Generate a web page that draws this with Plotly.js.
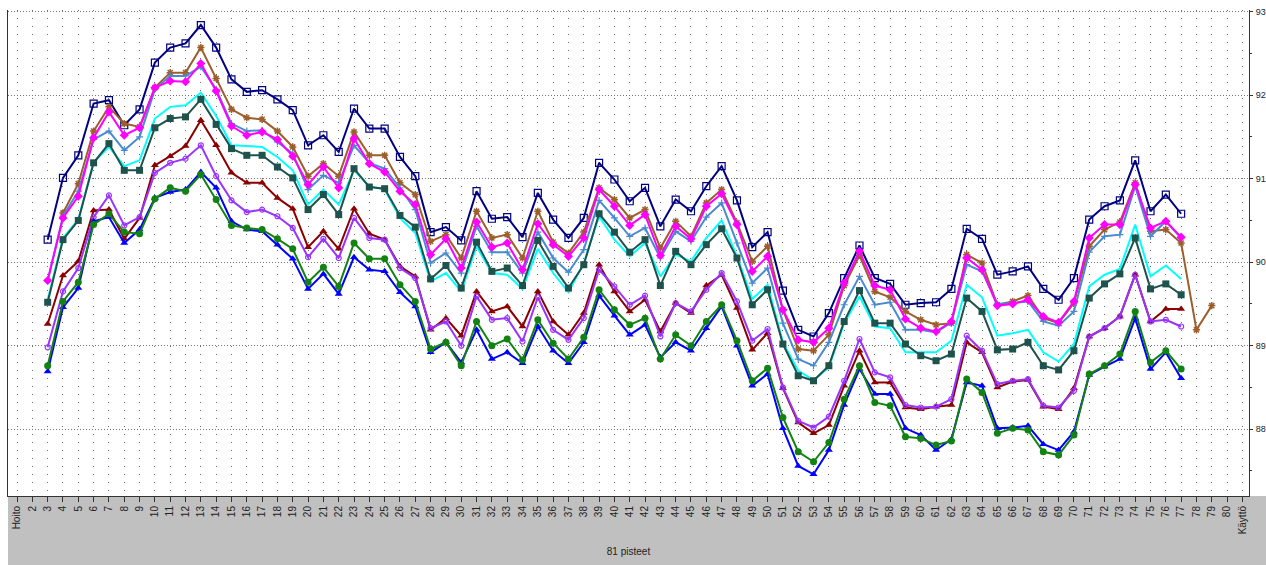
<!DOCTYPE html>
<html>
<head>
<meta charset="utf-8">
<script src="https://cdn.plot.ly/plotly-3.0.1.min.js"></script>
<style>html,body{margin:0;padding:0;background:#fff;}#chart{width:1266px;height:565px;}</style>
</head>
<body>
<div id="chart"></div>
<script>
// Categories along the x axis
const categories = ["Hoito"].concat(Array.from({length: 79}, (_, i) => String(i + 2))).concat(["Käyttö"]);
// data points run from "3" to "79"
const xCats = categories.slice(2, 79);

const navy = [90.27,91.01,91.28,91.90,91.94,91.64,91.83,92.39,92.57,92.62,92.84,92.57,92.19,92.04,92.06,91.95,91.82,91.40,91.52,91.32,91.84,91.60,91.60,91.26,91.03,90.36,90.42,90.26,90.85,90.52,90.54,90.30,90.83,90.51,90.29,90.53,91.19,90.99,90.73,90.89,90.43,90.75,90.61,90.91,91.15,90.74,90.18,90.36,89.66,89.19,89.11,89.39,89.81,90.20,89.81,89.74,89.49,89.51,89.52,89.68,90.40,90.28,89.85,89.89,89.95,89.68,89.55,89.81,90.51,90.67,90.74,91.22,90.61,90.81,90.58,null,null];
const brown = [null,90.59,90.94,91.57,91.86,91.66,91.62,92.09,92.27,92.27,92.57,92.20,91.83,91.73,91.71,91.57,91.38,91.03,91.18,91.03,91.56,91.28,91.28,90.95,90.81,90.25,90.33,90.05,90.61,90.29,90.33,90.05,90.61,90.24,90.11,90.36,90.89,90.75,90.53,90.63,90.17,90.49,90.31,90.71,90.87,90.47,90.01,90.19,89.43,88.96,88.94,89.13,89.72,90.08,89.65,89.58,89.41,89.31,89.25,89.27,90.09,89.99,89.49,89.53,89.60,89.33,89.27,89.51,90.19,90.39,90.48,90.95,90.37,90.39,90.23,89.19,89.48];
const magenta = [89.78,90.53,90.79,91.49,91.80,91.52,91.61,92.09,92.17,92.16,92.38,92.05,91.63,91.52,91.56,91.47,91.27,90.93,91.14,90.89,91.48,91.18,91.08,90.85,90.69,90.09,90.28,89.93,90.48,90.18,90.23,89.91,90.46,90.21,90.07,90.29,90.87,90.67,90.44,90.57,90.08,90.43,90.28,90.67,90.82,90.45,89.89,90.07,89.43,89.07,89.04,89.21,89.75,90.13,89.72,89.67,89.32,89.21,89.17,89.29,90.05,89.91,89.48,89.50,89.55,89.35,89.28,89.53,90.29,90.45,90.45,90.93,90.41,90.49,90.30,null,null];
const steelblue = [89.78,90.55,90.85,91.47,91.57,91.34,91.50,92.07,92.23,92.23,92.34,92.07,91.66,91.57,91.58,91.44,91.30,90.87,91.04,90.95,91.40,91.19,91.12,90.89,90.63,89.99,90.11,89.87,90.43,90.12,90.12,89.87,90.36,90.05,89.88,90.15,90.74,90.53,90.31,90.41,90.05,90.37,90.25,90.54,90.71,90.23,89.75,89.93,89.27,88.84,88.76,89.04,89.49,89.83,89.49,89.52,89.19,89.19,89.16,89.28,89.97,89.89,89.50,89.51,89.53,89.29,89.24,89.41,90.12,90.31,90.33,90.91,90.31,90.49,90.29,null,null];
const cyan = [89.55,90.29,90.51,91.20,91.38,91.15,91.22,91.72,91.86,91.88,92.03,91.75,91.40,91.39,91.38,91.26,91.10,90.69,90.87,90.69,91.10,90.91,90.87,90.53,90.35,89.77,89.87,89.65,90.19,89.87,89.85,89.68,90.16,89.87,89.64,89.99,90.55,90.27,90.07,90.23,89.83,90.09,90.01,90.29,90.50,90.07,89.56,89.73,89.04,88.70,88.59,88.74,89.27,89.59,89.23,89.21,88.92,88.92,88.92,89.06,89.73,89.58,89.12,89.15,89.19,88.92,88.81,89.02,89.71,89.85,89.92,90.45,89.83,89.96,89.80,null,null];
const teal = [89.52,90.27,90.50,91.19,91.42,91.10,91.10,91.61,91.72,91.74,91.95,91.65,91.36,91.28,91.28,91.14,91.01,90.63,90.81,90.57,91.12,90.90,90.88,90.56,90.42,89.80,89.96,89.69,90.24,89.89,89.93,89.72,90.26,89.95,89.69,89.97,90.58,90.36,90.12,90.27,89.72,90.13,89.97,90.21,90.40,90.05,89.49,89.67,89.02,88.64,88.58,88.76,89.29,89.66,89.27,89.27,89.02,88.88,88.82,88.90,89.57,89.41,88.95,88.96,89.04,88.76,88.71,88.94,89.57,89.74,89.86,90.29,89.68,89.74,89.61,null,null];
const darkred = [89.26,89.84,90.01,90.62,90.63,90.28,90.53,91.16,91.27,91.39,91.70,91.40,91.07,90.95,90.95,90.77,90.64,90.18,90.37,90.16,90.64,90.34,90.27,89.95,89.83,89.19,89.33,89.12,89.65,89.41,89.47,89.23,89.65,89.29,89.13,89.39,89.97,89.65,89.41,89.55,89.17,89.51,89.39,89.72,89.85,89.45,88.95,89.15,88.49,88.08,87.95,88.05,88.52,88.94,88.56,88.56,88.26,88.24,88.27,88.29,89.04,88.92,88.50,88.57,88.59,88.27,88.24,88.49,89.11,89.21,89.35,89.85,89.29,89.44,89.44,null,null];
const purple = [88.98,89.65,89.93,90.54,90.80,90.44,90.54,91.07,91.19,91.24,91.40,91.03,90.74,90.60,90.63,90.55,90.41,90.06,90.28,90.05,90.53,90.29,90.27,89.93,89.81,89.21,89.29,89.00,89.59,89.31,89.33,89.05,89.58,89.19,89.07,89.33,89.91,89.71,89.49,89.60,89.11,89.51,89.41,89.67,89.87,89.53,89.06,89.20,88.50,88.10,88.02,88.15,88.58,89.08,88.68,88.62,88.29,88.26,88.27,88.36,89.12,88.94,88.54,88.58,88.60,88.28,88.26,88.46,89.11,89.21,89.35,89.85,89.29,89.31,89.23,null,null];
const green = [88.76,89.53,89.76,90.45,90.58,90.36,90.34,90.76,90.89,90.85,91.05,90.75,90.44,90.41,90.39,90.28,90.16,89.76,89.94,89.71,90.23,90.04,90.04,89.73,89.53,88.96,89.04,88.76,89.29,89.00,89.08,88.83,89.31,89.03,88.84,89.10,89.67,89.43,89.25,89.33,88.84,89.13,89.00,89.29,89.49,89.06,88.58,88.73,88.14,87.73,87.61,87.84,88.36,88.76,88.32,88.28,87.91,87.89,87.81,87.86,88.60,88.44,87.95,88.01,87.99,87.73,87.69,87.93,88.66,88.76,88.90,89.41,88.80,88.94,88.72,null,null];
const blue = [88.69,89.46,89.69,90.49,90.54,90.23,90.39,90.77,90.84,90.87,91.08,90.89,90.49,90.39,90.37,90.21,90.04,89.68,89.86,89.62,90.06,89.91,89.89,89.64,89.47,88.92,89.04,88.80,89.19,88.84,88.92,88.79,89.23,88.94,88.79,89.04,89.60,89.36,89.13,89.25,88.86,89.04,88.94,89.21,89.47,89.00,88.52,88.66,88.01,87.56,87.46,87.75,88.29,88.72,88.42,88.42,88.01,87.93,87.75,87.88,88.56,88.52,88.01,88.02,88.04,87.82,87.75,87.97,88.65,88.75,88.84,89.33,88.72,88.92,88.61,null,null];

const yTicks = [88, 89, 90, 91, 92, 93];
const xTitle = "81 pisteet";

function tr(y, color, symbol, msize, mline, mfill) {
  return {
    type: 'scatter', mode: 'lines+markers', x: xCats, y: y,
    line: {color: color, width: 2},
    marker: {symbol: symbol, size: msize, color: mfill || color, line: {color: color, width: mline}},
    connectgaps: false, hoverinfo: 'none', showlegend: false
  };
}

const traces = [
  tr(navy, '#000080', 'square-open', 7, 1.2),
  tr(brown, '#9C5E2C', 'asterisk-open', 6, 1.5),
  tr(steelblue, '#4A8AD0', 'cross-thin-open', 5, 1.2),
  tr(magenta, '#FF00FF', 'diamond', 7, 0),
  {type: 'scatter', mode: 'lines', x: xCats, y: cyan, line: {color: '#00FFFF', width: 2}, hoverinfo: 'none', showlegend: false},
  tr(teal, '#1E524C', 'square', 7, 0),
  tr(darkred, '#8B0000', 'triangle-up', 7, 0),
  tr(purple, '#9933FF', 'circle-open', 5, 1.2),
  tr(blue, '#0000FF', 'triangle-up', 7, 0),
  tr(green, '#128212', 'circle', 7, 0)
];

const W = 1266, H = 565;
const mL = 8, mR = 17, mT = 10, mB = 69;
const pw = W - mL - mR, ph = H - mT - mB;

const layout = {
  width: W, height: H,
  margin: {l: mL, r: mR, t: mT, b: mB, pad: 0},
  paper_bgcolor: '#FFFFFF', plot_bgcolor: '#FFFFFF',
  font: {family: 'Liberation Sans, Arial, sans-serif', size: 10, color: '#222'},
  showlegend: false,
  xaxis: {
    type: 'category', categoryorder: 'array', categoryarray: categories,
    range: [-0.59, 80.43],
    tickmode: 'array', tickvals: categories, ticktext: categories,
    tickangle: -90, ticks: 'outside', ticklen: 5, tickcolor: '#333',
    tickfont: {size: 10, color: '#222'},
    showline: true, linecolor: '#333', linewidth: 1,
    showgrid: true, gridcolor: '#6a6a6a', gridwidth: 1, griddash: '1px,7px',
    zeroline: false,
    title: {text: xTitle, font: {size: 10, color: '#222'}, standoff: 14}
  },
  yaxis: {
    side: 'right', range: [87.2, 93.02],
    tickmode: 'array', tickvals: yTicks, ticktext: yTicks.map(String),
    ticks: 'outside', ticklen: 3, tickcolor: '#333',
    ticklabelstandoff: 1,
    minor: {dtick: 0.5, ticks: 'outside', ticklen: 2, tickcolor: '#333', showgrid: false},
    tickfont: {size: 9, color: '#222'},
    showline: true, linecolor: '#333', linewidth: 1, mirror: true,
    showgrid: true, gridcolor: '#777', gridwidth: 1, griddash: '1px,2px',
    zeroline: false
  },
  shapes: [{
    type: 'rect', xref: 'paper', yref: 'paper', layer: 'below',
    x0: 0, x1: 1 + (mR + 2) / pw, y0: -(mB + 2) / ph, y1: 0,
    fillcolor: '#C0C0C0', line: {width: 0}
  }]
};

Plotly.newPlot('chart', traces, layout, {staticPlot: true, displayModeBar: false});
</script>
</body>
</html>
